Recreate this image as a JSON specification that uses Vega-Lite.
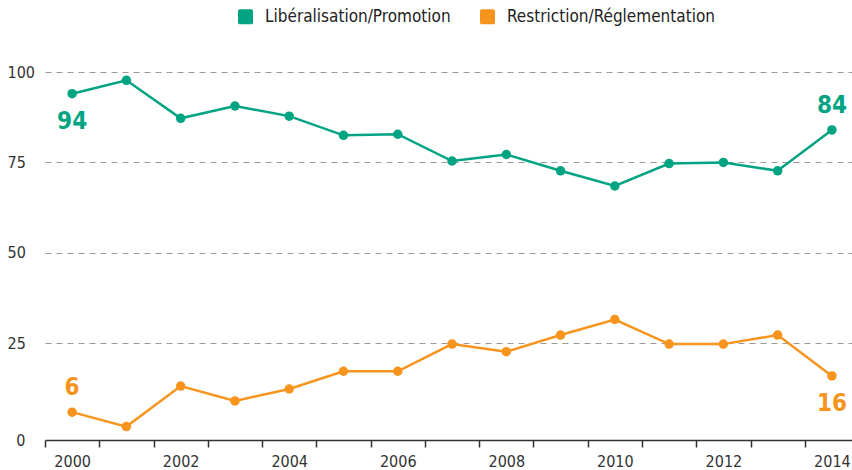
{
  "$schema": "https://vega.github.io/schema/vega-lite/v6.json",
  "width": 807,
  "height": 368,
  "autosize": {"type": "none"},
  "padding": {"left": 45, "top": 72, "right": 0, "bottom": 30},
  "background": "white",
  "config": {
    "view": {"stroke": null},
    "font": "DejaVu Sans Condensed, sans-serif"
  },
  "data": {
    "values": [
      {"year": 2000, "series": "Libéralisation/Promotion", "value": 94},
      {"year": 2001, "series": "Libéralisation/Promotion", "value": 97.7},
      {"year": 2002, "series": "Libéralisation/Promotion", "value": 87.2},
      {"year": 2003, "series": "Libéralisation/Promotion", "value": 90.6},
      {"year": 2004, "series": "Libéralisation/Promotion", "value": 87.8},
      {"year": 2005, "series": "Libéralisation/Promotion", "value": 82.5},
      {"year": 2006, "series": "Libéralisation/Promotion", "value": 82.8},
      {"year": 2007, "series": "Libéralisation/Promotion", "value": 75.4},
      {"year": 2008, "series": "Libéralisation/Promotion", "value": 77.2},
      {"year": 2009, "series": "Libéralisation/Promotion", "value": 72.7},
      {"year": 2010, "series": "Libéralisation/Promotion", "value": 68.5},
      {"year": 2011, "series": "Libéralisation/Promotion", "value": 74.7},
      {"year": 2012, "series": "Libéralisation/Promotion", "value": 75.0},
      {"year": 2013, "series": "Libéralisation/Promotion", "value": 72.7},
      {"year": 2014, "series": "Libéralisation/Promotion", "value": 84},
      {"year": 2000, "series": "Restriction/Réglementation", "value": 6},
      {"year": 2001, "series": "Restriction/Réglementation", "value": 2.0},
      {"year": 2002, "series": "Restriction/Réglementation", "value": 13.2},
      {"year": 2003, "series": "Restriction/Réglementation", "value": 9.1},
      {"year": 2004, "series": "Restriction/Réglementation", "value": 12.4},
      {"year": 2005, "series": "Restriction/Réglementation", "value": 17.3},
      {"year": 2006, "series": "Restriction/Réglementation", "value": 17.3},
      {"year": 2007, "series": "Restriction/Réglementation", "value": 24.8},
      {"year": 2008, "series": "Restriction/Réglementation", "value": 22.7},
      {"year": 2009, "series": "Restriction/Réglementation", "value": 27.3},
      {"year": 2010, "series": "Restriction/Réglementation", "value": 31.6},
      {"year": 2011, "series": "Restriction/Réglementation", "value": 24.8},
      {"year": 2012, "series": "Restriction/Réglementation", "value": 24.8},
      {"year": 2013, "series": "Restriction/Réglementation", "value": 27.3},
      {"year": 2014, "series": "Restriction/Réglementation", "value": 16}
    ]
  },
  "encoding": {
    "x": {
      "field": "year",
      "type": "quantitative",
      "scale": {"domain": [1999.5, 2014.37], "nice": false, "zero": false},
      "axis": {
        "title": null,
        "grid": false,
        "values": [2000, 2001, 2002, 2003, 2004, 2005, 2006, 2007, 2008, 2009, 2010, 2011, 2012, 2013, 2014],
        "format": "d",
        "labelExpr": "datum.value % 2 == 0 ? datum.label : ''",
        "tickOffset": -27.1,
        "labelOffset": 27.1,
        "domainColor": "#333",
        "domainWidth": 1.5,
        "tickColor": "#333",
        "tickWidth": 1.5,
        "tickSize": 7,
        "labelFontSize": 16,
        "labelColor": "#333",
        "labelPadding": 6,
        "labelFlush": false,
        "labelOverlap": false
      }
    },
    "y": {
      "field": "value",
      "type": "quantitative",
      "scale": {"domain": [-1.7, 100], "nice": false, "zero": false},
      "axis": {
        "title": null,
        "domain": false,
        "ticks": false,
        "values": [0, 25, 50, 75, 100],
        "labelFontSize": 16,
        "labelColor": "#333",
        "labelAlign": {"condition": {"test": "datum.value == 0", "value": "right"}, "value": "left"},
        "labelPadding": {"condition": {"test": "datum.value == 0", "value": 20}, "value": 38},
        "labelOffset": {"condition": {"test": "datum.value == 0", "value": 7}, "value": 0},
        "gridDash": [6, 5],
        "gridColor": "#999",
        "gridWidth": 1.2,
        "gridOpacity": {"condition": {"test": "datum.value == 0", "value": 0}, "value": 1}
      }
    },
    "color": {
      "field": "series",
      "type": "nominal",
      "scale": {
        "domain": ["Libéralisation/Promotion", "Restriction/Réglementation"],
        "range": ["#00a482", "#f7941d"]
      },
      "legend": {
        "title": null,
        "orient": "none",
        "legendX": 192,
        "legendY": -64,
        "direction": "horizontal",
        "symbolType": "M-0.75,-1H0.75A0.25,0.25 0 0 1 1,-0.75V0.75A0.25,0.25 0 0 1 0.75,1H-0.75A0.25,0.25 0 0 1 -1,0.75V-0.75A0.25,0.25 0 0 1 -0.75,-1Z",
        "symbolSize": 225,
        "symbolStrokeWidth": 0,
        "symbolOpacity": 1,
        "labelFontSize": 17,
        "labelLimit": 400,
        "labelColor": "#222",
        "labelOffset": 11,
        "columnPadding": 28,
        "encoding": {
          "symbols": {
            "update": {
              "fill": {"scale": "color", "field": "value"},
              "stroke": {"value": "transparent"}
            }
          }
        }
      }
    }
  },
  "layer": [
    {"mark": {"type": "line", "strokeWidth": 2.5}},
    {"mark": {"type": "point", "filled": true, "size": 90, "opacity": 1}},
    {
      "transform": [{"filter": "(datum.year == 2000 && datum.series == 'Libéralisation/Promotion') || (datum.year == 2014 && datum.series == 'Restriction/Réglementation')"}],
      "mark": {"type": "text", "dy": 28, "fontSize": 24, "fontWeight": "bold", "baseline": "middle"},
      "encoding": {"text": {"field": "value", "type": "quantitative", "format": ".0f"}}
    },
    {
      "transform": [{"filter": "(datum.year == 2014 && datum.series == 'Libéralisation/Promotion') || (datum.year == 2000 && datum.series == 'Restriction/Réglementation')"}],
      "mark": {"type": "text", "dy": -24, "fontSize": 24, "fontWeight": "bold", "baseline": "middle"},
      "encoding": {"text": {"field": "value", "type": "quantitative", "format": ".0f"}}
    }
  ]
}
